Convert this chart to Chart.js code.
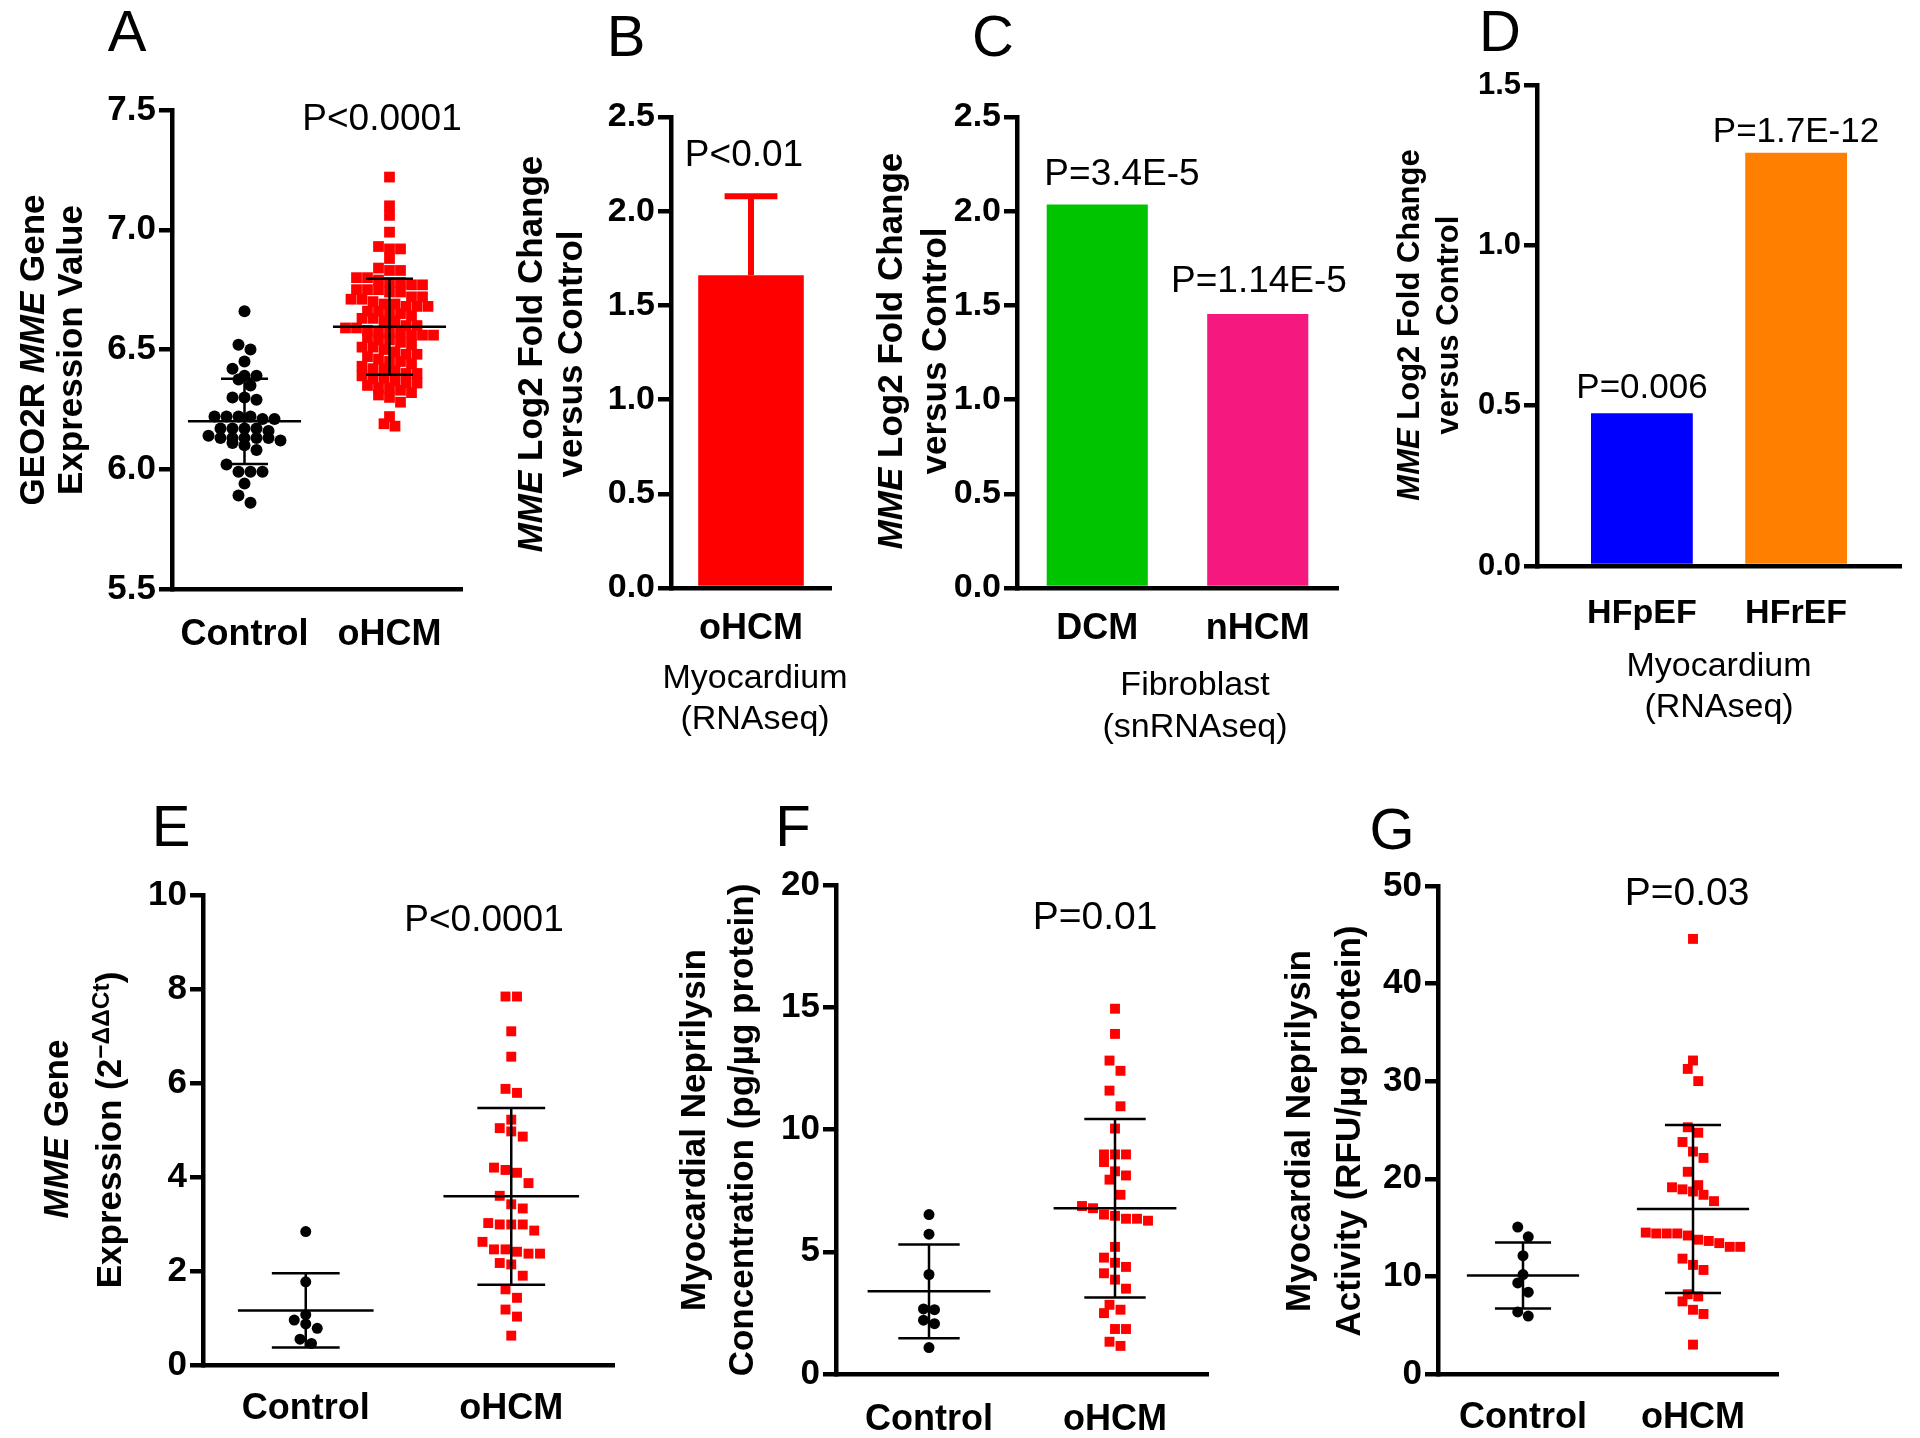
<!DOCTYPE html>
<html>
<head>
<meta charset="utf-8">
<script src="https://cdn.jsdelivr.net/npm/chart.js@4.4.0/dist/chart.umd.min.js"></script>
<style>
  html, body { margin: 0; padding: 0; background: #fff; }
  #page { position: relative; width: 1920px; height: 1438px; overflow: hidden; color: #000;
          font-family: 'Liberation Sans', Arial, Helvetica, sans-serif; }
  canvas.panel { position: absolute; }
  .lbl { position: absolute; transform: translate(-50%, -50%); white-space: nowrap; line-height: 1; }
  .rot { position: absolute; transform: translate(-50%, -50%) rotate(-90deg); white-space: nowrap; line-height: 1; font-weight: bold; }
  .sup { font-size: 0.7em; position: relative; top: -0.5em; }
</style>
</head>
<body>
<div id="page"></div>
<script>
// ---- data ----
const groups = ['Control', 'oHCM'];

// A: GEO2R expression
const geoControl = [6.66, 6.52, 6.50, 6.45, 6.42, 6.39, 6.39, 6.375, 6.35, 6.30, 6.30, 6.29,
  6.22, 6.22, 6.22, 6.21, 6.21, 6.22, 6.17, 6.17, 6.17, 6.16, 6.17, 6.14, 6.13, 6.13, 6.13,
  6.12, 6.13, 6.13, 6.11, 6.10, 6.08, 6.02, 5.99, 5.99, 5.99, 5.94, 5.89, 5.86];
const geoOhcm = [7.22, 7.10, 7.06, 6.99, 6.93, 6.92, 6.92, 6.88, 6.84, 6.83,
  6.83, 6.80, 6.80, 6.79, 6.78, 6.78, 6.77, 6.77, 6.75, 6.75,
  6.75, 6.74, 6.74, 6.72, 6.72, 6.71, 6.71, 6.70, 6.69, 6.69,
  6.68, 6.68, 6.68, 6.66, 6.66, 6.65, 6.65, 6.64, 6.63, 6.63,
  6.62, 6.62, 6.60, 6.60, 6.59, 6.59, 6.58, 6.57, 6.57, 6.57,
  6.56, 6.56, 6.56, 6.55, 6.54, 6.54, 6.53, 6.52, 6.51, 6.51,
  6.50, 6.49, 6.48, 6.48, 6.47, 6.46, 6.45, 6.45, 6.44, 6.43,
  6.42, 6.42, 6.41, 6.40, 6.40, 6.39, 6.38, 6.38, 6.37, 6.36,
  6.36, 6.35, 6.34, 6.34, 6.33, 6.32, 6.31, 6.30, 6.28, 6.22, 6.19, 6.18];
const geoMean = [6.20, 6.595];
const geoSd = [0.178, 0.20];
const geoTicks = [5.5, 6.0, 6.5, 7.0, 7.5];

// B: oHCM myocardium RNAseq
const rnaCats = ['oHCM'];
const rnaFold = [1.66];
const rnaErr = [0.42];
const foldTicks = [0, 0.5, 1.0, 1.5, 2.0, 2.5];

// C: fibroblast snRNAseq
const fibroCats = ['DCM', 'nHCM'];
const fibroFold = [2.035, 1.455];
const fibroP = ['P=3.4E-5', 'P=1.14E-5'];

// D: HF myocardium RNAseq
const hfCats = ['HFpEF', 'HFrEF'];
const hfFold = [0.476, 1.289];
const hfP = ['P=0.006', 'P=1.7E-12'];
const hfTicks = [0, 0.5, 1.0, 1.5];

// E: qPCR
const pcrControl = [2.84, 1.77, 1.07, 0.955, 0.875, 0.78, 0.55, 0.46];
const pcrOhcm = [7.84, 7.84, 7.10, 6.56, 5.875, 5.79, 5.22, 4.97, 5.04, 4.86, 4.20, 4.15, 4.09,
  3.87, 3.60, 3.42, 3.33, 3.02, 2.99, 2.99, 2.99, 2.86, 2.62, 2.46, 2.46, 2.41, 2.37, 2.37,
  2.17, 2.14, 1.90, 1.61, 1.43, 1.18, 1.03, 0.625];
const pcrMean = [1.16, 3.59];
const pcrSd = [0.79, 1.88];
const pcrTicks = [0, 2, 4, 6, 8, 10];

// F: neprilysin concentration
const concControl = [6.52, 5.72, 4.07, 2.66, 2.63, 2.20, 2.06, 1.08];
const concOhcm = [14.94, 13.91, 12.82, 12.40, 11.59, 10.95, 10.04, 8.98, 8.98, 8.98, 8.67, 8.29,
  8.12, 7.95, 7.33, 6.87, 6.78, 6.47, 6.35, 6.35, 6.27, 6.52, 5.20, 4.76, 4.55, 4.38, 4.12,
  3.86, 3.49, 2.83, 2.63, 2.49, 1.84, 1.84, 1.32, 1.15];
const concMean = [3.38, 6.78];
const concSd = [1.915, 3.65];
const concTicks = [0, 5, 10, 15, 20];

// G: neprilysin activity
const actControl = [15.05, 14.06, 12.12, 10.19, 9.33, 8.38, 6.36, 5.93];
const actOhcm = [44.58, 32.12, 31.26, 30.01, 25.28, 24.72, 23.77, 22.79, 22.14, 20.72, 19.13,
  18.92, 19.35, 18.70, 18.36, 17.71, 14.19, 14.40, 13.63, 14.40, 14.40, 13.76, 14.49, 13.41,
  13.03, 13.03, 11.82, 11.18, 10.66, 8.17, 7.95, 7.44, 6.58, 6.15, 3.01];
const actMean = [10.10, 16.90];
const actSd = [3.38, 8.60];
const actTicks = [0, 10, 20, 30, 40, 50];

// ---- drawing helpers ----
const FONT = "'Liberation Sans', Arial, Helvetica, sans-serif";
const LW = 4.5;
const M = { l: 130, t: 30, r: 30, b: 90 };
const page = document.getElementById('page');

function addText(html, x, y, size, cls, weight) {
  const d = document.createElement('div');
  d.className = cls || 'lbl';
  d.style.left = x + 'px';
  d.style.top = y + 'px';
  d.style.fontSize = size + 'px';
  if (weight) d.style.fontWeight = weight;
  d.innerHTML = html;
  page.appendChild(d);
}

// mean line + SD whiskers for dot plots
function summaryPlugin(means, sds, halfMean, halfCap) {
  return {
    id: 'summary',
    afterDatasetsDraw(chart) {
      const { ctx, scales: { x, y } } = chart;
      const line = (x1, y1, x2, y2) => { ctx.beginPath(); ctx.moveTo(x1, y1); ctx.lineTo(x2, y2); ctx.stroke(); };
      ctx.save();
      ctx.strokeStyle = '#000';
      ctx.lineWidth = 2.5;
      means.forEach((m, i) => {
        const yc = y.getPixelForValue(m);
        const yt = y.getPixelForValue(m + sds[i]);
        const yb = y.getPixelForValue(m - sds[i]);
        line(x.getPixelForValue(i - halfMean), yc, x.getPixelForValue(i + halfMean), yc);
        line(x.getPixelForValue(i), yt, x.getPixelForValue(i), yb);
        line(x.getPixelForValue(i - halfCap), yt, x.getPixelForValue(i + halfCap), yt);
        line(x.getPixelForValue(i - halfCap), yb, x.getPixelForValue(i + halfCap), yb);
      });
      ctx.restore();
    }
  };
}

// upward-only error bar on top of a bar
function barErrorPlugin(values, errs, color, halfCap) {
  return {
    id: 'barError',
    afterDatasetsDraw(chart) {
      const { ctx, scales: { x, y } } = chart;
      ctx.save();
      ctx.strokeStyle = color;
      ctx.lineWidth = 6;
      values.forEach((v, i) => {
        const px = x.getPixelForValue(i);
        const yTop = y.getPixelForValue(v + errs[i]);
        ctx.beginPath();
        ctx.moveTo(px, y.getPixelForValue(v));
        ctx.lineTo(px, yTop);
        ctx.moveTo(x.getPixelForValue(i - halfCap), yTop);
        ctx.lineTo(x.getPixelForValue(i + halfCap), yTop);
        ctx.stroke();
      });
      ctx.restore();
    }
  };
}

function makeChart(spec) {
  const a = spec.area;
  const w = a.r - a.l + M.l + M.r;
  const h = a.b - a.t + M.t + M.b;
  const cv = document.createElement('canvas');
  cv.className = 'panel';
  cv.style.left = (a.l - M.l) + 'px';
  cv.style.top = (a.t - M.t) + 'px';
  cv.style.width = w + 'px';
  cv.style.height = h + 'px';
  cv.width = w;
  cv.height = h;
  page.appendChild(cv);

  const yt = spec.yTicks;
  return new Chart(cv.getContext('2d'), {
    type: spec.type,
    data: { datasets: spec.datasets },
    options: {
      responsive: false,
      animation: false,
      devicePixelRatio: 1,
      events: [],
      layout: { padding: { left: 0, top: M.t, right: M.r, bottom: 0 } },
      plugins: { legend: { display: false }, tooltip: { enabled: false } },
      scales: {
        x: {
          type: 'linear',
          min: spec.xMin,
          max: spec.xMax,
          offset: false,
          afterBuildTicks: s => { s.ticks = spec.xLabels.map((_, i) => ({ value: i })); },
          afterFit: s => { s.height = M.b; },
          grid: { display: false, drawTicks: false, offset: false },
          border: { display: true, color: '#000', width: LW },
          ticks: {
            color: '#000',
            autoSkip: false,
            maxRotation: 0,
            padding: spec.xPad,
            font: { family: FONT, size: spec.xFont, weight: 'bold' },
            callback: v => spec.xLabels[v]
          }
        },
        y: {
          type: 'linear',
          min: yt[0],
          max: yt[yt.length - 1],
          afterBuildTicks: s => { s.ticks = yt.map(v => ({ value: v })); },
          afterFit: s => { s.width = M.l; },
          grid: { display: true, drawOnChartArea: false, drawTicks: true, tickLength: 13, color: '#000', lineWidth: LW },
          border: { display: true, color: '#000', width: LW },
          ticks: {
            color: '#000',
            padding: 3,
            font: { family: FONT, size: spec.yFont, weight: 'bold' },
            callback: v => v.toFixed(spec.yDec)
          }
        }
      }
    },
    plugins: spec.plugins || []
  });
}

// GraphPad-like scatter arrangement: values close together share a row and spread sideways
function applySwarm(chart, series, spacing, rowGap) {
  const x = chart.scales.x, y = chart.scales.y;
  const pxUnit = x.getPixelForValue(1) - x.getPixelForValue(0);
  chart.data.datasets.forEach((ds, gi) => {
    const vals = series[gi];
    const order = vals.map((_, i) => i).sort((p, q) => vals[p] - vals[q]);
    const rows = [];
    order.forEach(i => {
      const py = y.getPixelForValue(vals[i]);
      const row = rows[rows.length - 1];
      if (row && Math.abs(row.y0 - py) < rowGap[gi]) row.items.push(i);
      else rows.push({ y0: py, items: [i] });
    });
    const xs = new Array(vals.length);
    rows.forEach(r => {
      r.items.sort((p, q) => vals[q] - vals[p]);
      const n = r.items.length;
      r.items.forEach((i, k) => { xs[i] = gi + (k - (n - 1) / 2) * spacing[gi] / pxUnit; });
    });
    ds.data = vals.map((v, i) => ({ x: xs[i], y: v }));
  });
  chart.update('none');
}

function dotSets(control, ohcm, dotR, sqR) {
  return [
    { data: control.map(v => ({ x: 0, y: v })), pointStyle: 'circle', pointRadius: dotR,
      backgroundColor: '#000', borderWidth: 0, clip: false },
    { data: ohcm.map(v => ({ x: 1, y: v })), pointStyle: 'rect', pointRadius: sqR,
      backgroundColor: '#ff0000', borderWidth: 0, clip: false }
  ];
}

// ---- Panel A ----
const chartA = makeChart({
  type: 'scatter', area: { l: 172, r: 462, t: 110, b: 589 },
  xMin: -0.5, xMax: 1.5, xLabels: groups, xFont: 36, xPad: 24,
  yTicks: geoTicks, yDec: 1, yFont: 35,
  datasets: dotSets(geoControl, geoOhcm, 6, 7.6),
  plugins: [summaryPlugin(geoMean, geoSd, 0.39, 0.162)]
});
applySwarm(chartA, [geoControl, geoOhcm], [12, 11], [8, 8]);

// ---- Panel B ----
makeChart({
  type: 'bar', area: { l: 671, r: 831, t: 117, b: 588 },
  xMin: -0.5, xMax: 0.5, xLabels: rnaCats, xFont: 36, xPad: 19,
  yTicks: foldTicks, yDec: 1, yFont: 34,
  datasets: [{ data: rnaFold.map((v, i) => ({ x: i, y: v })), backgroundColor: '#ff0000',
    borderWidth: 0, barPercentage: 0.66, categoryPercentage: 1 }],
  plugins: [barErrorPlugin(rnaFold, rnaErr, '#ff0000', 0.165)]
});

// ---- Panel C ----
makeChart({
  type: 'bar', area: { l: 1017, r: 1338, t: 117, b: 588 },
  xMin: -0.5, xMax: 1.5, xLabels: fibroCats, xFont: 36, xPad: 19,
  yTicks: foldTicks, yDec: 1, yFont: 34,
  datasets: [{ data: fibroFold.map((v, i) => ({ x: i, y: v })), backgroundColor: ['#00c400', '#f5187f'],
    borderWidth: 0, barPercentage: 0.63, categoryPercentage: 1 }]
});

// ---- Panel D ----
makeChart({
  type: 'bar', area: { l: 1537, r: 1901, t: 85, b: 566 },
  xMin: -0.68, xMax: 1.68, xLabels: hfCats, xFont: 34, xPad: 27,
  yTicks: hfTicks, yDec: 1, yFont: 31,
  datasets: [{ data: hfFold.map((v, i) => ({ x: i, y: v })), backgroundColor: ['#0000ff', '#ff8000'],
    borderWidth: 0, barPercentage: 0.66, categoryPercentage: 1 }]
});

// ---- Panel E ----
const chartE = makeChart({
  type: 'scatter', area: { l: 203, r: 614, t: 895, b: 1365 },
  xMin: -0.5, xMax: 1.5, xLabels: groups, xFont: 36, xPad: 22,
  yTicks: pcrTicks, yDec: 0, yFont: 35,
  datasets: dotSets(pcrControl, pcrOhcm, 5.5, 7),
  plugins: [summaryPlugin(pcrMean, pcrSd, 0.33, 0.165)]
});
applySwarm(chartE, [pcrControl, pcrOhcm], [11.5, 11.5], [10, 16]);

// ---- Panel F ----
const chartF = makeChart({
  type: 'scatter', area: { l: 836, r: 1208, t: 885, b: 1374 },
  xMin: -0.5, xMax: 1.5, xLabels: groups, xFont: 36, xPad: 24,
  yTicks: concTicks, yDec: 0, yFont: 35,
  datasets: dotSets(concControl, concOhcm, 5.5, 7),
  plugins: [summaryPlugin(concMean, concSd, 0.33, 0.165)]
});
applySwarm(chartF, [concControl, concOhcm], [11, 11], [10, 16]);

// ---- Panel G ----
const chartG = makeChart({
  type: 'scatter', area: { l: 1438, r: 1778, t: 886, b: 1374 },
  xMin: -0.5, xMax: 1.5, xLabels: groups, xFont: 36, xPad: 22,
  yTicks: actTicks, yDec: 0, yFont: 35,
  datasets: dotSets(actControl, actOhcm, 5.5, 7),
  plugins: [summaryPlugin(actMean, actSd, 0.33, 0.165)]
});
applySwarm(chartG, [actControl, actOhcm], [10.5, 10.5], [10, 16]);

// ---- text: panel letters ----
[['A', 127, 31], ['B', 626, 36], ['C', 993, 36], ['D', 1500, 31],
 ['E', 171, 826], ['F', 793, 826], ['G', 1392, 829]].forEach(t => addText(t[0], t[1], t[2], 58));

// ---- text: P values ----
addText('P&lt;0.0001', 382, 117, 37);
addText('P&lt;0.01', 744, 153, 37);
addText(fibroP[0], 1122, 172, 37);
addText(fibroP[1], 1259, 279, 37);
addText(hfP[0], 1642, 385, 35);
addText(hfP[1], 1796, 129, 35);
addText('P&lt;0.0001', 484, 918, 37);
addText('P=0.01', 1095, 915, 39);
addText('P=0.03', 1687, 891, 39);

// ---- text: sample subtitles ----
addText('Myocardium', 755, 676, 34);
addText('(RNAseq)', 755, 717, 34);
addText('Fibroblast', 1195, 683, 34);
addText('(snRNAseq)', 1195, 725, 34);
addText('Myocardium', 1719, 664, 34);
addText('(RNAseq)', 1719, 705, 34);

// ---- text: y axis titles ----
addText('GEO2R <i>MME</i> Gene', 31, 350, 35, 'rot');
addText('Expression Value', 69, 350, 35, 'rot');
addText('<i>MME</i> Log2 Fold Change', 529, 354, 35, 'rot');
addText('versus Control', 569, 354, 35, 'rot');
addText('<i>MME</i> Log2 Fold Change', 889, 351, 35, 'rot');
addText('versus Control', 933, 351, 35, 'rot');
addText('<i>MME</i> Log2 Fold Change', 1408, 325, 31, 'rot');
addText('versus Control', 1447, 325, 31, 'rot');
addText('<i>MME</i> Gene', 55, 1129, 35, 'rot');
addText('Expression (2<span class="sup">&minus;&Delta;&Delta;Ct</span>)', 108, 1130, 35, 'rot');
addText('Myocardial Neprilysin', 692, 1130, 35, 'rot');
addText('Concentration (pg/&micro;g protein)', 740, 1130, 35, 'rot');
addText('Myocardial Neprilysin', 1297, 1131, 35, 'rot');
addText('Activity (RFU/&micro;g protein)', 1347, 1131, 35, 'rot');
</script>
</body>
</html>
